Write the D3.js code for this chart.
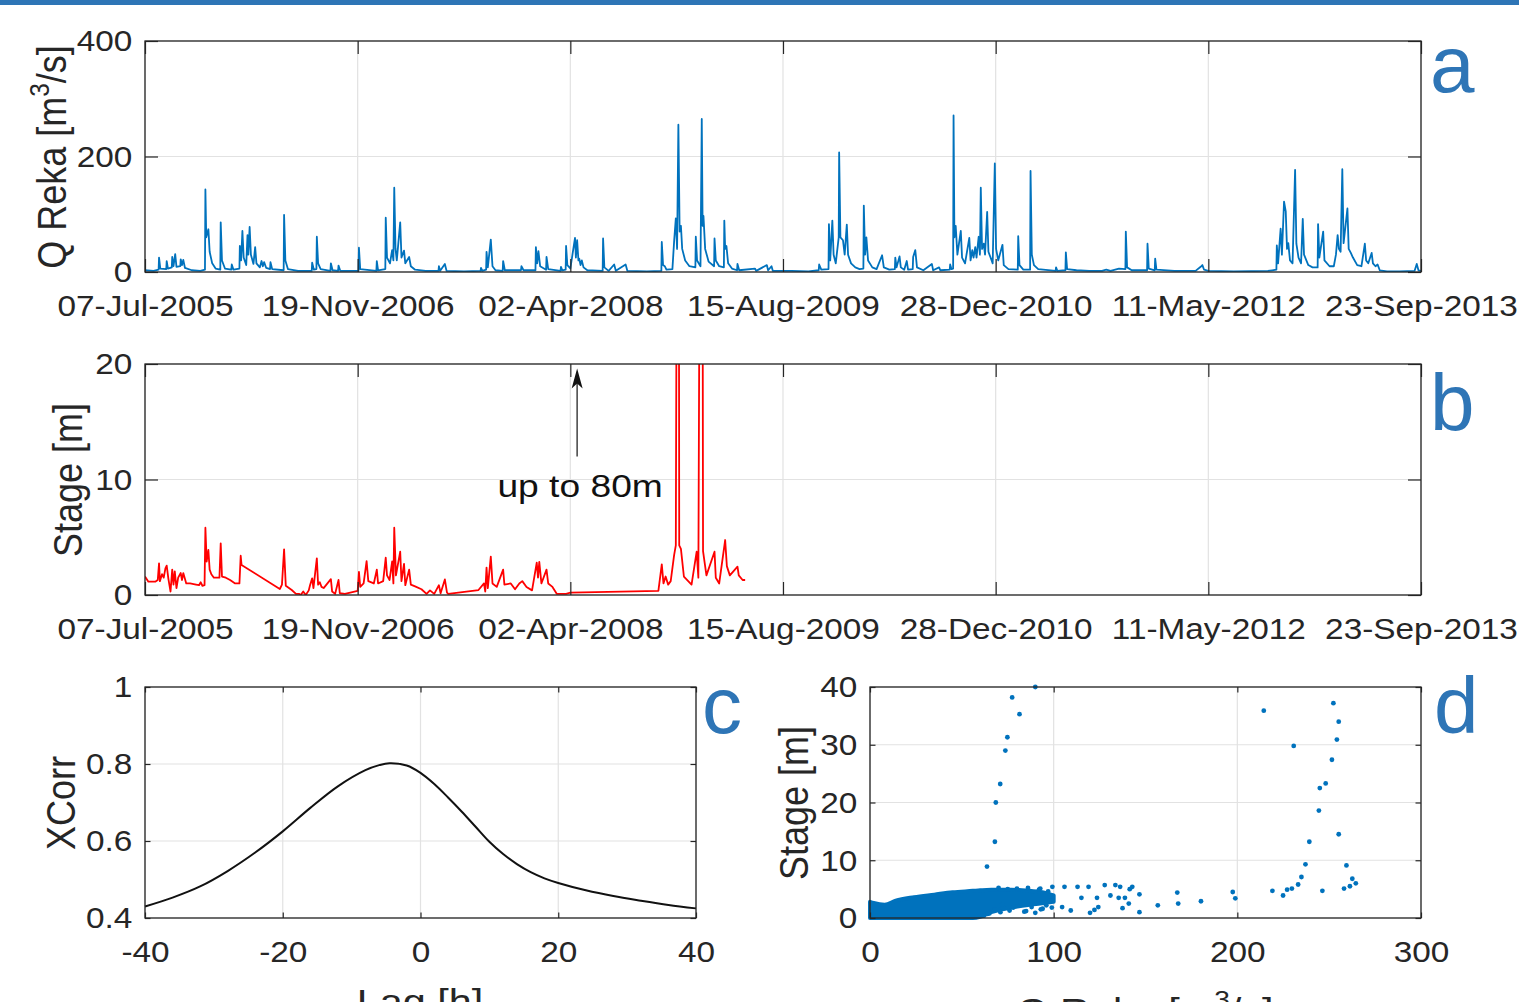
<!DOCTYPE html>
<html><head><meta charset="utf-8">
<script src="https://cdn.jsdelivr.net/npm/d3@7"></script>
<style>
body{margin:0;background:#fff}
svg{display:block}
text{font-family:"Liberation Sans",Arial,Helvetica,sans-serif;fill:#262626}
</style>
</head><body>
<svg id="c" width="1519" height="1002"></svg>
<script>
// ---------------- DATA ----------------
const dateTickLabels = ["07-Jul-2005","19-Nov-2006","02-Apr-2008","15-Aug-2009","28-Dec-2010","11-May-2012","23-Sep-2013"];
const startDate = "07-Jul-2005";
const qTicks = [0,200,400];
const stageTicks = [0,10,20];
const lagTicks = [-40,-20,0,20,40];
const xcorrTicks = [0.4,0.6,0.8,1];
const scatQTicks = [0,100,200,300];
const scatSTicks = [0,10,20,30,40];

// Q Reka discharge [day since 07-Jul-2005, m3/s]
const qReka = [[0,3],[20,2],[32,4],[33,25],[36,6],[50,5],[51,19],[54,6],[63,8],[64,26],[67,10],[71,31],[74,9],[83,10],[84,22],[87,12],[90,21],[94,7],[110,3],[130,2],[141,4],[142,143],[144,60],[149,74],[152,35],[158,15],[166,6],[177,4],[178,86],[181,20],[188,6],[203,4],[204,13],[208,4],[222,6],[223,45],[226,20],[229,71],[232,25],[238,12],[241,64],[243,30],[246,78],[249,30],[255,14],[259,43],[262,15],[270,8],[274,19],[277,10],[280,17],[285,7],[294,5],[295,17],[299,5],[326,3],[327,99],[330,20],[336,5],[360,2],[392,2],[393,16],[397,4],[403,5],[404,61],[407,15],[413,5],[436,2],[437,15],[441,3],[454,2],[455,11],[459,2],[502,2],[503,42],[506,5],[544,2],[545,19],[548,3],[565,5],[566,94],[569,25],[576,15],[581,38],[584,20],[586,146],[589,40],[592,20],[600,86],[603,25],[609,37],[612,15],[621,26],[625,10],[635,4],[660,2],[690,2],[691,10],[694,2],[705,14],[709,2],[750,1],[789,2],[790,7],[793,2],[802,4],[803,35],[806,8],[813,56],[817,10],[824,3],[841,2],[842,19],[846,3],[884,3],[885,10],[890,3],[918,3],[919,43],[922,15],[925,36],[929,10],[943,4],[944,26],[948,5],[977,2],[978,9],[981,3],[989,4],[990,45],[993,12],[1000,6],[1011,59],[1013,25],[1016,55],[1019,20],[1021,23],[1024,12],[1027,20],[1031,8],[1040,3],[1076,2],[1077,58],[1080,8],[1090,2],[1103,13],[1107,2],[1130,13],[1134,2],[1180,1],[1214,2],[1215,52],[1218,12],[1222,10],[1226,4],[1240,5],[1244,53],[1248,93],[1251,40],[1254,255],[1257,70],[1260,80],[1263,40],[1270,20],[1280,10],[1294,8],[1295,61],[1298,20],[1306,10],[1309,265],[1311,80],[1313,97],[1317,40],[1325,18],[1338,10],[1339,58],[1342,20],[1350,10],[1361,8],[1362,89],[1364,40],[1367,45],[1371,15],[1380,6],[1392,3],[1393,14],[1397,3],[1434,6],[1437,2],[1462,12],[1465,3],[1473,10],[1476,2],[1520,2],[1560,1],[1584,3],[1585,13],[1590,4],[1607,5],[1608,83],[1611,20],[1616,89],[1619,30],[1624,15],[1631,60],[1632,207],[1635,60],[1641,55],[1645,30],[1650,82],[1653,30],[1660,15],[1670,8],[1680,5],[1689,6],[1690,115],[1693,30],[1696,60],[1700,20],[1710,8],[1720,5],[1733,29],[1737,8],[1750,4],[1763,5],[1764,25],[1767,8],[1774,27],[1777,8],[1785,4],[1791,19],[1794,4],[1805,5],[1806,26],[1811,38],[1815,8],[1830,3],[1850,14],[1853,3],[1867,8],[1870,3],[1892,4],[1893,13],[1896,5],[1900,6],[1901,271],[1903,60],[1906,80],[1910,30],[1918,71],[1921,25],[1928,15],[1938,59],[1941,20],[1945,38],[1948,25],[1952,43],[1955,25],[1960,61],[1963,30],[1965,146],[1968,40],[1972,49],[1975,30],[1980,104],[1983,35],[1988,25],[1993,15],[1998,188],[2001,40],[2006,20],[2016,47],[2019,12],[2030,5],[2052,4],[2053,62],[2056,12],[2065,4],[2081,4],[2082,175],[2085,30],[2090,12],[2100,5],[2141,2],[2142,8],[2145,2],[2164,3],[2165,34],[2168,5],[2190,3],[2220,2],[2250,2],[2260,4],[2270,2],[2290,6],[2305,5],[2306,70],[2309,8],[2320,3],[2356,3],[2357,49],[2360,6],[2374,3],[2375,23],[2378,4],[2420,2],[2470,2],[2482,9],[2486,12],[2490,4],[2500,2],[2560,1],[2640,2],[2650,3],[2660,4],[2661,46],[2664,15],[2670,75],[2673,30],[2678,122],[2682,105],[2685,40],[2688,50],[2692,20],[2698,15],[2704,177],[2707,49],[2712,25],[2718,15],[2722,92],[2725,30],[2735,12],[2745,8],[2757,8],[2758,83],[2761,25],[2770,70],[2773,20],[2785,10],[2795,10],[2800,30],[2804,64],[2807,40],[2811,35],[2815,178],[2818,50],[2827,110],[2830,40],[2835,33],[2840,25],[2850,12],[2860,10],[2868,49],[2871,20],[2876,15],[2884,33],[2887,15],[2893,10],[2898,13],[2903,3],[2920,1],[2950,1],[2985,2],[2990,14],[2994,3],[3000,2]];

// Stage [day since 07-Jul-2005, m]
const stage = [[0,1.6],[8,1.15],[24,1.15],[30,1.3],[33,2.74],[35,1.2],[40,1.8],[44,1.5],[48,2.3],[51,2.54],[55,1.4],[60,0.3],[64,2.2],[67,0.9],[70,2.05],[74,0.6],[78,1.5],[84,1.9],[87,1.3],[90,1.9],[97,1.0],[106,1.0],[120,0.9],[127,0.85],[131,1.1],[135,0.8],[140,0.85],[142,5.83],[145,2.9],[149,3.9],[152,2.2],[156,1.8],[162,1.5],[175,1.5],[178,4.47],[181,1.6],[190,1.5],[200,1.3],[212,1.0],[222,1.0],[225,3.4],[227,2.6],[317,0.52],[322,0.9],[327,3.95],[331,0.8],[345,0.43],[355,0.1],[362,0.1],[366,0.0],[372,0.3],[378,0.0],[385,0.4],[388,0.85],[393,1.44],[396,0.6],[404,3.17],[407,0.9],[411,1.1],[415,0.7],[420,0.6],[437,1.37],[440,0.3],[447,0.1],[455,1.3],[458,0.15],[470,0.1],[500,0.35],[503,2.0],[506,0.7],[514,1.0],[521,2.94],[525,1.2],[538,1.0],[545,2.2],[548,1.0],[560,1.2],[566,3.23],[569,1.7],[575,1.3],[581,2.9],[584,1.0],[586,5.83],[590,1.7],[600,3.75],[603,1.2],[609,2.7],[612,0.85],[621,2.2],[625,0.9],[635,0.75],[650,0.5],[662,0.1],[670,0.4],[680,0.1],[691,0.85],[695,0.15],[705,1.35],[710,0.2],[713,0.1],[784,0.43],[797,1.0],[800,0.3],[803,2.37],[806,0.6],[813,3.32],[817,1.0],[827,0.7],[842,2.2],[845,0.9],[860,1.0],[870,0.5],[880,1.0],[887,1.2],[897,0.7],[910,0.4],[921,2.8],[924,1.5],[927,2.87],[932,1.0],[944,2.2],[948,1.0],[958,0.7],[968,0.1],[990,0.1],[1000,0.2],[1207,0.35],[1215,2.65],[1219,1.0],[1224,1.6],[1230,0.9],[1236,1.2],[1244,3.46],[1248,4.3],[1254,80],[1256,4.3],[1260,4.0],[1267,1.6],[1285,0.9],[1297,3.75],[1301,1.5],[1309,80],[1312,3.8],[1320,1.7],[1339,3.75],[1342,1.5],[1350,1.0],[1364,4.76],[1368,2.5],[1375,1.7],[1393,2.45],[1396,1.7],[1405,1.3],[1411,1.3]];

// Cross-correlation [lag h, xcorr]
const lagH  = [-40,-36,-32,-28,-24,-20,-16,-12,-8,-6,-4.5,-2,0,2,4,6,8,10,12,14,16,18,20,24,28,32,36,40];
const xcorr = [0.430,0.453,0.482,0.522,0.570,0.625,0.686,0.742,0.784,0.797,0.802,0.796,0.777,0.748,0.713,0.676,0.637,0.598,0.566,0.540,0.519,0.503,0.491,0.472,0.457,0.445,0.434,0.425];

// Scatter Q vs Stage (isolated points)
const scatQ = [90,77.4,81.4,74.8,73.7,70.9,68.5,68.0,63.7,214.4,230.7,252.3,255.2,254.2,251.5,248.1,244.9,244.4,255.2,239.2,237.1,234.9,233.1,229.7,227.1,224.9,219.1,246.3,259.4,262.6,264.5,261.3,258.1,197.5,198.9,180.2,167.3,167.8,156.7,146.7,146.7,140.9,141.4,137.5,135.4,133.6,127.8,124.3,123.6,119,119.8,115.1,113,109.3,105.9,104.6,99.3,92.7,142.8,136.2,138.8,130.9,122.2,96,98,94,88,85,82,78,72,68,65,97,92,86,80,75,70,62,58,64,71,76,84,90,93,99];
const scatS = [40,38.2,35.3,31.3,29.0,23.2,20.0,13.2,8.9,35.9,29.8,37.2,34.0,30.9,27.4,23.3,22.5,18.6,14.5,13.2,9.3,7.1,5.8,5.1,4.9,3.9,4.7,4.7,9.1,6.8,6.0,5.5,5.1,4.5,3.4,2.9,4.4,2.5,2.2,4.1,1.0,2.5,5.0,1.7,3.5,5.7,5.7,1.9,3.5,5.4,0.9,3.5,5.4,1.3,5.4,1.9,5.4,5.1,5.4,5.4,3.5,3.9,1.4,2.2,3.0,1.6,1.9,1.2,2.6,1.8,2.4,1.5,0.8,4.6,4.9,5.2,5.1,5.0,5.2,0.4,0.3,0.7,1.0,1.3,1.1,0.9,1.5,1.8];
// Dense cluster envelope (Q, lower, upper stage)
const clusterQ     = [0,2,8,14,24,35,45,56,60,66,77,87,95,100];
const clusterUpper = [2.8,2.6,2.3,3.0,3.6,4.05,4.45,4.7,4.8,4.9,4.9,4.7,4.4,3.9];
const clusterLower = [0,0,0,0,0,0,0,0,0.2,1.0,1.8,2.3,2.6,2.8];

// Annotation
const noteDay = 1016, noteFrom = 12, noteTo = 19.6, noteText = "up to 80m", noteTextVal = 8.5;

// ---------------- DRAW ----------------
const svg = d3.select("#c");
const W = 1519, H = 1002;
svg.append("rect").attr("width", W).attr("height", H).attr("fill", "#fff");
svg.append("rect").attr("x", 0).attr("y", 0).attr("width", W).attr("height", 5).attr("fill", "#2E75B6");

const parseD = d3.timeParse("%d-%b-%Y");
const fmtD = d3.timeFormat("%d-%b-%Y");
const t0 = parseD(startDate);
const dayToDate = d => d3.timeDay.offset(t0, d);
const dateTicks = dateTickLabels.map(parseD);

const AX = "#262626", GRID = "#e2e2e2", BLUE = "#0072BD";
const TICKFS = 29, SX = 1.15;

const xA = d3.scaleTime().domain([dateTicks[0], dateTicks[dateTicks.length-1]]).range([145, 1421]);
const yA = d3.scaleLinear().domain([0, 400]).range([272, 41]);
const yB = d3.scaleLinear().domain([0, 20]).range([595, 364]);
const xC = d3.scaleLinear().domain([-40, 40]).range([145, 696]);
const yC = d3.scaleLinear().domain([0.4, 1]).range([918, 687]);
const xD = d3.scaleLinear().domain([0, 300]).range([870, 1421]);
const yD = d3.scaleLinear().domain([0, 40]).range([918, 687]);

function grid(x, y, xt, yt) {
  const g = svg.append("g");
  const [xa, xb] = x.range(), [ya, yb] = y.range();
  g.selectAll("line.gx").data(xt).join("line").attr("class","gx")
    .attr("x1", d => x(d)).attr("x2", d => x(d)).attr("y1", yb).attr("y2", ya)
    .attr("stroke", GRID).attr("stroke-width", 1.2);
  g.selectAll("line.gy").data(yt).join("line").attr("class","gy")
    .attr("y1", d => y(d)).attr("y2", d => y(d)).attr("x1", xa).attr("x2", xb)
    .attr("stroke", GRID).attr("stroke-width", 1.2);
}

function axes(x, y, xt, yt, fx, fy, tl) {
  const [xa, xb] = x.range(), [ya, yb] = y.range();
  const g = svg.append("g");
  const styl = sel => {
    sel.select(".domain").remove();
    sel.selectAll(".tick line").attr("stroke", AX).attr("stroke-width", 1.2);
  };
  const bx = g.append("g").attr("transform", `translate(0,${ya})`)
    .call(d3.axisBottom(x).tickValues(xt).tickFormat(fx).tickSize(-tl).tickSizeOuter(0).tickPadding(0));
  styl(bx);
  bx.selectAll("text").attr("dy", null).attr("y", 44).attr("font-size", TICKFS)
    .attr("font-family", '"Liberation Sans",Arial,sans-serif').attr("fill", AX)
    .attr("transform", `scale(${SX},1)`);
  const lx = g.append("g").attr("transform", `translate(${xa},0)`)
    .call(d3.axisLeft(y).tickValues(yt).tickFormat(fy).tickSize(-tl).tickSizeOuter(0).tickPadding(11));
  styl(lx);
  lx.selectAll("text").attr("font-size", TICKFS).attr("dy", "0.34em")
    .attr("font-family", '"Liberation Sans",Arial,sans-serif').attr("fill", AX)
    .attr("transform", `scale(${SX},1)`);
  const tx = g.append("g").attr("transform", `translate(0,${yb})`)
    .call(d3.axisTop(x).tickValues(xt).tickFormat("").tickSize(-tl).tickSizeOuter(0));
  styl(tx);
  const rx = g.append("g").attr("transform", `translate(${xb},0)`)
    .call(d3.axisRight(y).tickValues(yt).tickFormat("").tickSize(-tl).tickSizeOuter(0));
  styl(rx);
  g.append("rect").attr("x", xa).attr("y", yb).attr("width", xb - xa).attr("height", ya - yb)
    .attr("fill", "none").attr("stroke", AX).attr("stroke-width", 1.3);
}

function clip(id, x, y) {
  const [xa, xb] = x.range(), [ya, yb] = y.range();
  svg.append("clipPath").attr("id", id).append("rect")
    .attr("x", xa).attr("y", yb).attr("width", xb - xa).attr("height", ya - yb);
  return `url(#${id})`;
}

function ylabel(txt, sup, rest, x, y, fs) {
  const t = svg.append("text").attr("text-anchor", "middle").attr("font-size", fs)
    .attr("transform", `translate(${x},${y}) scale(${SX},1) rotate(-90)`).attr("fill", AX);
  t.append("tspan").text(txt);
  if (sup) {
    t.append("tspan").attr("font-size", fs * 0.68).attr("dy", -fs * 0.42).text(sup);
    t.append("tspan").attr("dy", fs * 0.42).text(rest);
  }
}
function xlabel(txt, sup, rest, x, y, fs) {
  const t = svg.append("text").attr("text-anchor", "middle").attr("font-size", fs)
    .attr("transform", `translate(${x},${y}) scale(${SX},1)`).attr("fill", AX);
  t.append("tspan").text(txt);
  if (sup) {
    t.append("tspan").attr("font-size", fs * 0.68).attr("dy", -fs * 0.42).text(sup);
    t.append("tspan").attr("dy", fs * 0.42).text(rest);
  }
}
function letter(ch, x, y) {
  svg.append("text").attr("x", x).attr("y", y).text(ch)
    .attr("font-family", "Lato, 'Open Sans', sans-serif").attr("font-size", 80)
    .style("fill", "#2E75B6");
}

// ---- Panel a ----
grid(xA, yA, dateTicks, qTicks);
svg.append("path").datum(qReka)
  .attr("d", d3.line().x(d => xA(dayToDate(d[0]))).y(d => yA(d[1])))
  .attr("fill", "none").attr("stroke", BLUE).attr("stroke-width", 1.8).attr("stroke-linejoin", "round")
  .attr("clip-path", clip("ca", xA, yA));
axes(xA, yA, dateTicks, qTicks, d => fmtD(d), d => String(d), 13);
ylabel("Q Reka [m", "3", "/s]", 66, 157, 36);
letter("a", 1430, 92);

// ---- Panel b ----
grid(xA, yB, dateTicks, stageTicks);
svg.append("path").datum(stage)
  .attr("d", d3.line().x(d => xA(dayToDate(d[0]))).y(d => yB(d[1])))
  .attr("fill", "none").attr("stroke", "#FF0000").attr("stroke-width", 1.8).attr("stroke-linejoin", "round")
  .attr("clip-path", clip("cb", xA, yB));
axes(xA, yB, dateTicks, stageTicks, d => fmtD(d), d => String(d), 13);
ylabel("Stage [m]", null, null, 82, 480, 36);
letter("b", 1430, 430);
// annotation
const ax = xA(dayToDate(noteDay));
svg.append("line").attr("x1", ax).attr("x2", ax).attr("y1", yB(noteFrom)).attr("y2", yB(noteTo) + 14)
  .attr("stroke", "#4d4d4d").attr("stroke-width", 1.6);
svg.append("path")
  .attr("d", `M${ax},${yB(noteTo)} L${ax-5.5},${yB(noteTo)+20} L${ax},${yB(noteTo)+15} L${ax+5.5},${yB(noteTo)+20} Z`)
  .attr("fill", "#111");
svg.append("text").attr("text-anchor", "middle").attr("font-size", 31)
  .attr("transform", `translate(${xA(dayToDate(noteDay+7))},${yB(noteTextVal)}) scale(1.2,1)`)
  .style("fill", "#111").text(noteText);

// ---- Panel c ----
grid(xC, yC, lagTicks, xcorrTicks);
svg.append("path").datum(lagH.map((l, i) => [l, xcorr[i]]))
  .attr("d", d3.line().curve(d3.curveCatmullRom).x(d => xC(d[0])).y(d => yC(d[1])))
  .attr("fill", "none").attr("stroke", "#111").attr("stroke-width", 2);
axes(xC, yC, lagTicks, xcorrTicks, d => String(d), d => String(d), 5.5);
ylabel("XCorr", null, null, 75, 803, 36);
xlabel("Lag [h]", null, null, 420, 1014, 36);
letter("c", 702, 733);

// ---- Panel d ----
grid(xD, yD, scatQTicks, scatSTicks);
svg.append("path").datum(clusterQ.map((q, i) => [q, clusterLower[i], clusterUpper[i]]))
  .attr("d", d3.area().curve(d3.curveMonotoneX).x(d => xD(d[0])).y0(d => yD(d[1])).y1(d => yD(d[2])))
  .attr("fill", BLUE).attr("stroke", BLUE).attr("stroke-width", 4).attr("stroke-linejoin", "round");
svg.append("g").selectAll("circle").data(scatQ.map((q, i) => [q, scatS[i]])).join("circle")
  .attr("cx", d => xD(d[0])).attr("cy", d => yD(d[1])).attr("r", 2.4).attr("fill", BLUE);
axes(xD, yD, scatQTicks, scatSTicks, d => String(d), d => String(d), 5.5);
ylabel("Stage [m]", null, null, 808, 803, 36);
xlabel("Q Reka [m", "3", "/s]", 1145, 1023, 36);
letter("d", 1434, 733);
</script>
</body></html>
